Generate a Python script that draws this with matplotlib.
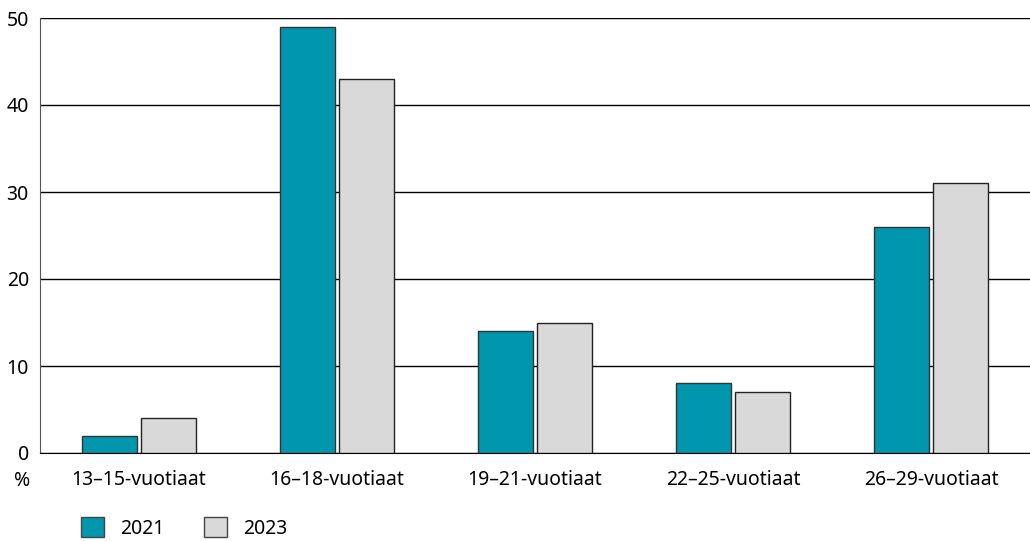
import numpy as np
import matplotlib.pyplot as plt
from matplotlib.patches import Patch

categories = ["13–15-vuotiaat", "16–18-vuotiaat", "19–21-vuotiaat", "22–25-vuotiaat", "26–29-vuotiaat"]
values_2021 = [2, 49, 14, 8, 26]
values_2023 = [4, 43, 15, 7, 31]
years = ["2021", "2023"]
colors = ["#0097ae", "#d9d9d9"]

plt.rcParams['font.family'] = ['Noto Sans', 'DejaVu Sans']

fig = plt.figure(figsize=(10.3, 5.41), dpi=100)
ax = fig.add_axes([40 / 1030, 1 - 453 / 541, 990 / 1030, 435 / 541])

x = np.arange(len(categories))
w = 0.273
gap = 0.025
ax.bar(x - w / 2 - gap / 2, values_2021, w, color=colors[0], edgecolor="#333333", linewidth=1, zorder=3)
ax.bar(x + w / 2 + gap / 2, values_2023, w, color=colors[1], edgecolor="#222222", linewidth=1, zorder=3)

ax.set_xlim(-0.5, len(categories) - 0.5)
ax.set_ylim(0, 50)
ax.set_yticks(range(0, 51, 10))
ax.set_xticks(x)
ax.set_xticklabels(categories, fontsize=14)
ax.tick_params(axis="y", labelsize=14, length=0, pad=8)
ax.tick_params(axis="x", length=0, pad=12)
ax.grid(axis="y", color="black", linewidth=1, zorder=0)
for s in ["top", "right"]:
    ax.spines[s].set_visible(False)
ax.spines["left"].set_color("#555555")
ax.spines["bottom"].set_color("black")

fig.text(22 / 1030, 1 - 481 / 541, "%", fontsize=14, ha="center", va="center")

handles = [Patch(facecolor=colors[i], edgecolor="#444444", label=years[i]) for i in range(2)]
fig.legend(handles=handles, loc="center left", bbox_to_anchor=(81 / 1030, 1 - 528 / 541),
           ncol=2, frameon=False, fontsize=14, handlelength=1.2, handleheight=1.15,
           columnspacing=2.05, handletextpad=0.8, borderpad=0, borderaxespad=0)

fig.savefig("out.png", dpi=100)
